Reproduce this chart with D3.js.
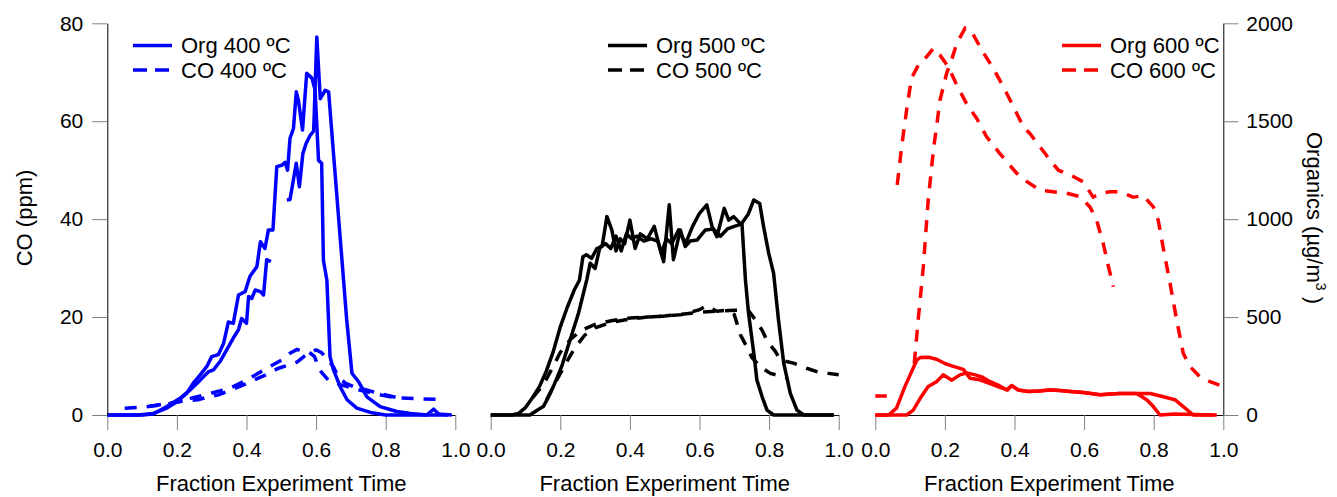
<!DOCTYPE html>
<html><head><meta charset="utf-8">
<script src="https://cdn.jsdelivr.net/npm/d3@7"></script>
<style>
body{margin:0;background:#fff;}
text{font-family:"Liberation Sans",Arial,sans-serif;fill:#000;}
</style></head>
<body><svg id="c" width="1337" height="497"></svg>
<script>
// ---- data: [fraction of experiment time, value] ; null value = gap ----
// Organics in µg/m3 (right axis), CO in ppm (left axis)
const org400a = [[0,0],[0.09,0],[0.132,8],[0.171,35],[0.2,68],[0.228,110],[0.247,163],[0.267,205],[0.286,248],[0.3,298],[0.319,308],[0.334,365],[0.348,475],[0.362,468],[0.377,613],[0.396,630],[0.41,708],[0.43,758],[0.44,885],[0.453,850],[0.463,945],[0.476,945],[0.487,1268],[0.501,1275],[0.511,1290],[0.518,1250],[0.525,1413],[0.535,1463],[0.543,1650],[0.549,1608],[0.561,1455],[0.573,1745],[0.588,1720],[0.597,1660],[0.607,1300],[0.616,1285],[0.621,790],[0.631,688],[0.64,298],[0.65,230],[0.669,145],[0.689,78],[0.717,35],[0.756,13],[0.8,0],[0.98,0]];
const org400b = [[0,0],[0.1,0],[0.132,5],[0.171,43],[0.209,85],[0.238,128],[0.267,178],[0.29,220],[0.305,230],[0.324,273],[0.343,333],[0.362,393],[0.377,435],[0.386,493],[0.4,468],[0.406,605],[0.415,595],[0.425,638],[0.44,630],[0.449,613],[0.458,793],[0.47,783],[0.49,null],[0.516,1098],[0.525,1100],[0.543,1285],[0.552,1165],[0.562,1335],[0.571,1385],[0.583,1428],[0.593,1450],[0.602,1930],[0.612,1615],[0.626,1658],[0.636,1650],[0.65,1335],[0.669,910],[0.688,485],[0.703,213],[0.722,170],[0.746,93],[0.784,43],[0.832,18],[0.872,8],[0.918,0],[0.938,30],[0.952,5],[0.99,0]];
const co400a = [[0.05,1.4],[0.1,1.6],[0.15,2.0],[0.2,2.6],[0.25,3.6],[0.3,4.5],[0.35,5.4],[0.4,7.1],[0.45,9.2],[0.5,11.2],[0.525,12.6],[0.545,13.4],[0.56,13.0],[0.58,12.8],[0.595,12.0],[0.61,9.2],[0.635,7.1],[0.67,6.2],[0.72,5.2],[0.77,4.3],[0.83,3.5],[0.9,3.3],[0.966,3.2]];
const co400b = [[0.12,1.8],[0.17,2.3],[0.22,2.9],[0.26,3.1],[0.29,3.7],[0.32,4.1],[0.355,5.1],[0.39,6.1],[0.42,7.1],[0.455,8.2],[0.49,9.5],[0.52,10.2],[0.545,10.8],[0.57,12.2],[0.59,13.0],[0.6,13.3],[0.615,12.8],[0.635,11.2],[0.65,9.8],[0.664,7.8],[0.684,6.5],[0.71,5.7],[0.74,5.2],[0.77,4.6],[0.8,4.1],[0.83,3.6]];

const org500a = [[0,0],[0.06,0],[0.08,8],[0.1,38],[0.12,88],[0.14,145],[0.16,225],[0.18,325],[0.2,450],[0.22,550],[0.24,638],[0.255,688],[0.265,808],[0.275,818],[0.29,800],[0.305,850],[0.32,860],[0.334,1013],[0.348,945],[0.36,838],[0.372,900],[0.385,875],[0.4,995],[0.415,850],[0.43,925],[0.45,900],[0.47,963],[0.49,825],[0.505,900],[0.52,875],[0.54,945],[0.56,875],[0.58,963],[0.6,1030],[0.621,1073],[0.636,963],[0.65,910],[0.671,1055],[0.684,995],[0.698,1013],[0.717,978],[0.722,978],[0.732,690],[0.741,518],[0.756,315],[0.765,178],[0.78,93],[0.794,25],[0.813,0],[0.986,0]];
const org500b = [[0,0],[0.113,0],[0.13,20],[0.151,43],[0.165,88],[0.18,145],[0.204,248],[0.228,383],[0.252,518],[0.276,690],[0.286,775],[0.3,748],[0.314,858],[0.33,875],[0.345,850],[0.36,913],[0.375,838],[0.39,925],[0.405,900],[0.42,913],[0.44,888],[0.46,900],[0.48,888],[0.497,783],[0.513,1073],[0.525,793],[0.545,945],[0.559,860],[0.573,888],[0.593,893],[0.617,945],[0.64,950],[0.66,913],[0.68,950],[0.7,963],[0.72,975],[0.74,1025],[0.756,1098],[0.773,1080],[0.784,963],[0.799,825],[0.813,723],[0.827,485],[0.842,265],[0.861,110],[0.88,25],[0.9,0],[0.986,0]];
const co500a = [[0.12,3.5],[0.15,6],[0.18,10],[0.2,12.8],[0.23,15.5],[0.26,17.3],[0.3,18.5],[0.35,19.3],[0.4,19.8],[0.45,20.0],[0.5,20.2],[0.55,20.5],[0.6,21.5],[0.62,22.3],[0.65,21.2],[0.68,21.4],[0.7,20.5],[0.718,16.3],[0.736,13.9],[0.75,11.8],[0.775,9.8],[0.804,8.5],[0.85,7.6]];
const co500b = [[0.16,3.0],[0.185,6.5],[0.21,9.8],[0.24,13.5],[0.27,16.3],[0.3,17.8],[0.35,19],[0.4,19.6],[0.45,20],[0.5,20.2],[0.55,20.6],[0.6,21.0],[0.65,21.2],[0.7,21.4],[0.74,21.4],[0.761,19.4],[0.78,17.3],[0.795,15],[0.818,13],[0.832,11.2],[0.87,10.6],[0.91,9.5],[0.94,8.8],[0.97,8.5],[1.0,8.2]];

const org600a = [[0,0],[0.038,0],[0.061,35],[0.085,145],[0.119,280],[0.129,293],[0.153,295],[0.176,285],[0.2,263],[0.224,248],[0.253,233],[0.272,188],[0.3,180],[0.33,160],[0.36,140],[0.38,128],[0.392,150],[0.41,128],[0.44,120],[0.47,123],[0.502,128],[0.53,125],[0.56,120],[0.598,115],[0.646,103],[0.7,110],[0.751,110],[0.78,78],[0.799,43],[0.818,0],[0.86,5],[0.971,0]];
const org600b = [[0,0],[0.09,0],[0.109,25],[0.129,85],[0.152,145],[0.176,170],[0.195,205],[0.22,178],[0.243,205],[0.263,215],[0.287,205],[0.306,195],[0.33,170],[0.353,153],[0.378,128],[0.392,150],[0.411,128],[0.44,120],[0.469,123],[0.502,128],[0.53,125],[0.56,120],[0.598,115],[0.646,103],[0.7,110],[0.751,110],[0.79,110],[0.828,93],[0.861,78],[0.885,43],[0.914,0],[0.981,0]];
const co600a = [[0.063,47],[0.076,55],[0.09,62.3],[0.104,68.8],[0.124,71.5],[0.148,73.2],[0.167,74.9],[0.186,73.5],[0.21,71.1],[0.234,67.4],[0.262,63.6],[0.291,60.6],[0.32,56.8],[0.358,53.4],[0.406,49.4],[0.435,47.7],[0.473,45.9],[0.511,45.6],[0.55,45.3],[0.588,44.6],[0.617,42.5],[0.636,39.8],[0.655,35],[0.67,30.3],[0.684,26.2]];
const co600b = [[0,3.9],[0.033,3.9],[0.07,null],[0.112,10.5],[0.124,20],[0.138,30.3],[0.152,43.9],[0.167,54.1],[0.186,64.3],[0.205,69.8],[0.219,72.5],[0.234,75.9],[0.258,79],[0.277,78.3],[0.306,74.5],[0.339,70.8],[0.368,67],[0.397,63],[0.425,58.9],[0.444,57.5],[0.473,54.8],[0.502,52.1],[0.526,50],[0.569,48.7],[0.598,47.6],[0.626,44.5],[0.65,45.3],[0.674,45.6],[0.703,45.6],[0.741,44.5],[0.77,44.8],[0.799,42.5],[0.813,39.8],[0.827,34.3],[0.847,26.9],[0.866,19.4],[0.885,12.6],[0.904,9.9],[0.933,7.8],[0.962,6.8],[1.0,5.8]];

const xTicks = [0, 0.2, 0.4, 0.6, 0.8, 1.0];
const coTicks = [0, 20, 40, 60, 80];
const orgTicks = [0, 500, 1000, 1500, 2000];
const temps = ["400", "500", "600"];
const colors = ["#0000ff", "#000000", "#ff0000"];
const orgSeries = [[org400a, org400b], [org500a, org500b], [org600a, org600b]];
const coSeries = [[co400a, co400b], [co500a, co500b], [co600a, co600b]];

// ---- layout ----
const svg = d3.select("#c");
const panelX0 = [107.3, 490.7, 875.3];
const panelW = 348;
const yTop = 23.3, yBot = 415;
const yCO = d3.scaleLinear().domain([0, 80]).range([yBot, yTop]);
const yOrg = d3.scaleLinear().domain([0, 2000]).range([yBot, yTop]);
const TICK = 15;
const LW = 3.5;

function styleAxis(g, size) {
  g.selectAll(".domain").attr("stroke", "#000").attr("stroke-width", 1);
  g.selectAll(".tick line").attr("stroke", "#808080").attr("stroke-width", 1);
  g.selectAll(".tick text").attr("font-size", size).attr("fill", "#000")
    .style("font-family", "'Liberation Sans', Arial, sans-serif");
}

temps.forEach((t, i) => {
  const x = d3.scaleLinear().domain([0, 1]).range([panelX0[i], panelX0[i] + panelW]);
  const g = svg.append("g");

  // x axis
  const xa = g.append("g").attr("transform", `translate(0,${yBot})`)
    .call(d3.axisBottom(x).tickValues(xTicks).tickFormat(d3.format(".1f"))
      .tickSize(TICK).tickSizeOuter(0).tickPadding(12));
  styleAxis(xa, 21);

  g.append("text").attr("x", panelX0[i] + panelW / 2).attr("y", 491)
    .attr("text-anchor", "middle").attr("font-size", 22)
    .text("Fraction Experiment Time");

  const line = (ys) => d3.line().defined(d => d[1] !== null)
    .x(d => x(d[0])).y(d => ys(d[1]));

  // CO dashed (left axis)
  coSeries[i].forEach(s => {
    g.append("path").datum(s).attr("d", line(yCO))
      .attr("fill", "none").attr("stroke", colors[i]).attr("stroke-width", LW)
      .attr("stroke-dasharray", "12,10");
  });
  // Organics solid (right axis)
  orgSeries[i].forEach(s => {
    g.append("path").datum(s).attr("d", line(yOrg))
      .attr("fill", "none").attr("stroke", colors[i]).attr("stroke-width", LW)
      .attr("stroke-linejoin", "round");
  });

  // legend
  const lx = [133, 608, 1062][i];
  const lg = g.append("g");
  lg.append("line").attr("x1", lx).attr("x2", lx + 39).attr("y1", 45.5).attr("y2", 45.5)
    .attr("stroke", colors[i]).attr("stroke-width", LW);
  lg.append("line").attr("x1", lx).attr("x2", lx + 39).attr("y1", 70).attr("y2", 70)
    .attr("stroke", colors[i]).attr("stroke-width", LW).attr("stroke-dasharray", "14,8");
  lg.append("text").attr("x", lx + 48).attr("y", 53).attr("font-size", 22).text(`Org ${t} ºC`);
  lg.append("text").attr("x", lx + 48).attr("y", 77.5).attr("font-size", 22).text(`CO ${t} ºC`);
});

// left axis (panel 1)
const la = svg.append("g").attr("transform", `translate(${panelX0[0]},0)`)
  .call(d3.axisLeft(yCO).tickValues(coTicks).tickFormat(d3.format("d"))
    .tickSize(TICK).tickSizeOuter(0).tickPadding(9));
styleAxis(la, 21);
svg.append("text").attr("transform", "translate(31.5,218) rotate(-90)")
  .attr("text-anchor", "middle").attr("font-size", 22).text("CO (ppm)");

// right axis (panel 3)
const ra = svg.append("g").attr("transform", `translate(${panelX0[2] + panelW},0)`)
  .call(d3.axisRight(yOrg).tickValues(orgTicks).tickFormat(d3.format("d"))
    .tickSize(TICK).tickSizeOuter(0).tickPadding(8));
styleAxis(ra, 21);
const rt = svg.append("text").attr("transform", "translate(1307,218) rotate(90)")
  .attr("text-anchor", "middle").attr("font-size", 22);
rt.append("tspan").text("Organics (µg/m");
rt.append("tspan").attr("font-size", 14).attr("dy", -9).text("3");
rt.append("tspan").attr("dy", 9).text(" )");
</script></body></html>
